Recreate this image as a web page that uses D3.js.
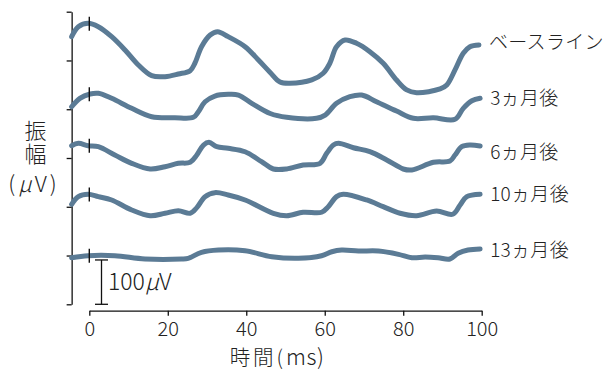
<!DOCTYPE html>
<html>
<head>
<meta charset="utf-8">
<script src="https://cdn.jsdelivr.net/npm/d3@7"></script>
<style>
  html, body { margin: 0; padding: 0; background: #fff; }
  svg { display: block; }
  text { font-family: "Noto Sans CJK JP", "Noto Sans", sans-serif; fill: #222; font-weight: 300; }
</style>
</head>
<body>
<svg id="chart" width="603" height="371"></svg>
<script>
// Recording sessions, top to bottom
const sessions = ["ベースライン", "3ヵ月後", "6ヵ月後", "10ヵ月後", "13ヵ月後"];

// Vertical offset of each trace on the stacked amplitude axis (µV)
const sessionOffsets = [550, 440, 330, 220, 110];

// Sample times (ms) and amplitudes (µV, relative to trace offset)
const baselineT = [-4.5, -2.8, -0.3, 2.3, 5.7, 9.1, 12.5, 15.9, 19.3, 22.7, 25.7, 26.9, 28.6, 30.8, 32.7, 35.4, 39.7, 43.1, 46.1, 48.6, 51.1, 56.7, 59.6, 61.3, 63.0, 65.2, 68.1, 71.5, 74.9, 78.3, 80.9, 83.4, 89.4, 91.1, 93.2, 95.3, 97.0, 99.3];
const baselineV = [53.7, 76.2, 83.9, 76.2, 53.7, 23.7, -10.2, -34.3, -36.5, -30.5, -23.0, -6.3, 31.1, 57.5, 65.0, 53.7, 31.1, 1.1, -27.0, -48.5, -51.4, -44.0, -28.9, -6.3, 31.1, 46.2, 38.8, 19.8, -6.3, -44.0, -66.5, -72.6, -64.3, -55.3, -21.4, 16.2, 31.1, 35.0];

const m3T = [-4.5, -2.4, 0.2, 2.3, 5.7, 10.8, 15.9, 21.8, 26.5, 27.8, 29.5, 32.0, 35.4, 38.0, 41.4, 46.1, 50.3, 57.9, 60.1, 63.0, 66.4, 69.4, 73.2, 78.3, 82.6, 87.7, 93.2, 95.3, 97.5, 99.6];
const m3V = [5.6, 24.6, 34.3, 35.9, 24.6, 2.0, -16.9, -19.2, -18.3, -5.6, 16.9, 29.8, 33.6, 32.0, 13.3, -9.7, -18.3, -20.5, -13.1, 13.3, 28.2, 32.0, 16.9, -4.1, -20.5, -19.2, -22.8, 2.0, 19.2, 24.6];

const m6T = [-4.5, -2.8, -0.3, 2.3, 6.5, 10.8, 15.5, 19.3, 22.7, 25.7, 27.4, 29.1, 30.5, 32.5, 35.4, 39.7, 43.9, 46.9, 50.3, 54.5, 58.8, 60.5, 62.2, 63.5, 67.3, 71.5, 75.8, 80.0, 82.2, 87.7, 91.9, 93.2, 94.9, 97.0, 99.6];
const m6V = [27.7, 33.2, 27.7, 25.5, 6.8, -12.0, -24.8, -19.6, -12.0, -9.7, 6.8, 29.3, 35.4, 25.5, 21.9, 14.2, -8.3, -24.8, -24.8, -15.8, -12.0, 10.6, 29.3, 33.2, 23.2, 14.2, -4.5, -24.8, -27.1, -9.7, -6.8, 6.8, 25.5, 29.3, 27.1];

const m10T = [-4.5, -2.8, -0.3, 2.3, 5.7, 10.8, 15.5, 19.3, 22.7, 25.7, 27.4, 29.5, 32.0, 35.4, 39.7, 46.9, 50.3, 54.5, 59.2, 60.9, 63.0, 64.7, 70.7, 74.9, 79.2, 83.4, 88.5, 92.6, 94.5, 96.2, 99.6];
const m10V = [5.6, 22.8, 28.2, 22.8, 15.3, -7.2, -20.1, -14.7, -8.8, -14.7, -2.0, 22.8, 31.8, 26.6, 15.3, -14.7, -20.1, -12.4, -12.4, 0.2, 22.8, 28.2, 15.3, 0.2, -14.7, -20.1, -9.5, -16.9, 4.1, 22.8, 28.2];

const m13T = [-4.5, -0.3, 6.5, 14.2, 23.5, 25.2, 28.6, 32.9, 39.7, 46.5, 53.3, 59.2, 61.8, 64.3, 68.6, 73.7, 78.8, 82.2, 85.6, 88.9, 91.9, 94.0, 96.5, 99.6];
const m13V = [-5.0, -0.5, -0.5, -7.9, -7.9, -6.3, 7.2, 12.4, 10.8, -2.7, -6.3, -0.5, 8.6, 12.4, 10.2, 10.2, 2.7, -5.0, -3.4, -5.0, -7.9, 5.0, 12.4, 14.7];

const seriesTimes = [baselineT, m3T, m6T, m10T, m13T];
const seriesValues = [baselineV, m3V, m6V, m10V, m13V];

// Axis ticks
const xTicks = [0, 20, 40, 60, 80, 100];
const yTicks = [0, 110, 220, 330, 440, 550, 660];
const scaleBarValue = 100;   // µV
const stimulusTime = 0;      // ms

const svg = d3.select("#chart");
const lineColor = "#5b7b95";
const inkColor = "#111";
const latinFont = 'Roboto, "Noto Sans CJK JP", sans-serif';

const x = d3.scaleLinear().domain([0, 100]).range([89.3, 481.7]);
const y = d3.scaleLinear().domain([0, 660]).range([304.3, 11.7]);

const tMin = d3.min(seriesTimes, ts => d3.min(ts));
const axisX = x(tMin);

// Y axis (unlabelled ticks)
const yAxis = d3.axisLeft(y).tickValues(yTicks).tickSize(5).tickSizeOuter(0).tickFormat("");
svg.append("g").attr("transform", `translate(${axisX},0)`).call(yAxis)
  .call(g => g.selectAll("path,line").attr("stroke", inkColor).attr("stroke-width", 1.3));

// X axis
const xAxis = d3.axisBottom(x).tickValues(xTicks).tickSize(5).tickSizeOuter(0).tickPadding(6.5);
svg.append("g").attr("transform", "translate(0,310.7)").call(xAxis)
  .call(g => g.selectAll("path,line").attr("stroke", inkColor).attr("stroke-width", 1.3))
  .call(g => g.selectAll("text").attr("font-size", 20).attr("font-weight", 300)
    .attr("fill", "#222").attr("font-family", latinFont));

// Small vertical nudges keeping session labels clear of neighbouring traces
const labelNudge = [-3, 0, 6, 0, 1];

// Traces
const line = d3.line().curve(d3.curveCatmullRom.alpha(0.5));
sessions.forEach((name, i) => {
  const ts = seriesTimes[i], vs = seriesValues[i], off = sessionOffsets[i];
  const pts = ts.map((t, k) => [x(t), y(off + vs[k])]);
  svg.append("path")
    .attr("d", line(pts))
    .attr("fill", "none")
    .attr("stroke", lineColor)
    .attr("stroke-width", 5)
    .attr("stroke-linecap", "round")
    .attr("stroke-linejoin", "round");

  // Stimulus onset marker on each trace
  const k0 = d3.bisectLeft(ts, stimulusTime);
  const v0 = vs[k0 - 1] + (vs[k0] - vs[k0 - 1]) * (stimulusTime - ts[k0 - 1]) / (ts[k0] - ts[k0 - 1]);
  const ym = y(off + v0);
  svg.append("line")
    .attr("x1", x(stimulusTime)).attr("x2", x(stimulusTime))
    .attr("y1", ym - 7).attr("y2", ym + 7)
    .attr("stroke", inkColor).attr("stroke-width", 1.4);

  // Session label at the right end of the trace
  const last = pts[pts.length - 1];
  svg.append("text")
    .attr("x", last[0] + 10)
    .attr("y", last[1] + labelNudge[i])
    .attr("dy", "0.35em")
    .attr("font-size", 19)
    .attr("letter-spacing", 0.3)
    .text(name);
});

// Amplitude scale bar
const sbX = 101.5;
svg.append("line").attr("x1", sbX).attr("x2", sbX).attr("y1", y(0)).attr("y2", y(scaleBarValue))
  .attr("stroke", inkColor).attr("stroke-width", 1.3);
[0, scaleBarValue].forEach(v => {
  svg.append("line").attr("x1", sbX - 6.5).attr("x2", sbX + 6.5).attr("y1", y(v)).attr("y2", y(v))
    .attr("stroke", inkColor).attr("stroke-width", 1.3);
});
const sbText = svg.append("text").attr("x", sbX + 6.5).attr("y", 290)
  .attr("font-size", 23);
sbText.append("tspan").text(scaleBarValue);
sbText.append("tspan").attr("font-style", "italic").text("μ");
sbText.append("tspan").text("V");

// Y axis title: "振幅" set vertically, unit below
svg.append("text")
  .attr("x", 35.5).attr("y", 120)
  .attr("writing-mode", "vertical-rl")
  .attr("font-size", 22)
  .attr("letter-spacing", 1)
  .text("振幅");
const unit = svg.append("text").attr("x", 34).attr("y", 192).attr("text-anchor", "middle")
  .attr("font-size", 22).attr("letter-spacing", 3);
unit.append("tspan").text("(");
unit.append("tspan").attr("font-style", "italic").text("μ");
unit.append("tspan").text("V)");

// X axis title
const xTitle = svg.append("text").attr("x", 277).attr("y", 365.4).attr("text-anchor", "middle")
  .attr("font-size", 20.5);
xTitle.append("tspan").attr("letter-spacing", 3).text("時間(");
xTitle.append("tspan").attr("font-size", 22).attr("letter-spacing", 0.5).text("ms)");
</script>
</body>
</html>
